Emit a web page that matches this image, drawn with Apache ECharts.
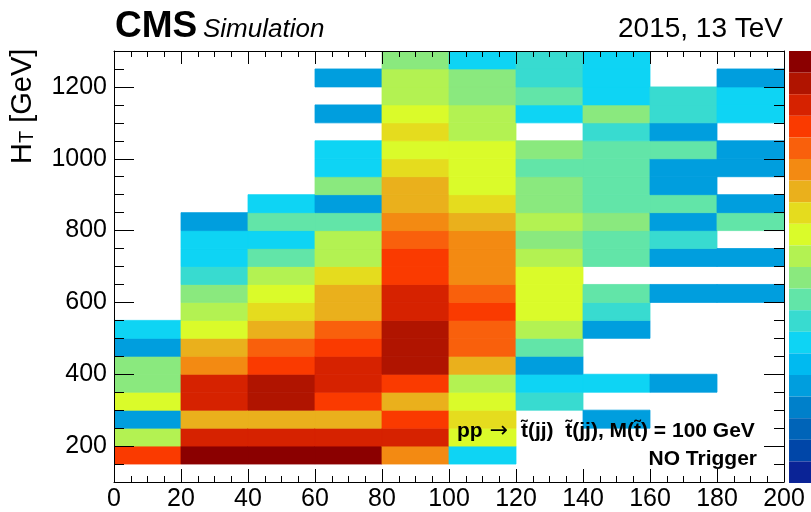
<!DOCTYPE html>
<html>
<head>
<meta charset="utf-8">
<script src="https://cdn.jsdelivr.net/npm/echarts@6/dist/echarts.min.js"></script>
<style>
  html, body { margin: 0; padding: 0; background: #ffffff; }
  #chart { width: 811px; height: 512px; }
</style>
</head>
<body>
<div id="chart"></div>
<script>
// Dijet mass bin edges (GeV) on x, lower edges of the H_T bins (GeV) on y
const massEdges = [0, 20, 40, 60, 80, 100, 120, 140, 160, 180, 200];
const htLowEdges = [150, 200, 250, 300, 350, 400, 450, 500, 550, 600, 650, 700,
                    750, 800, 850, 900, 950, 1000, 1050, 1100, 1150, 1200, 1250];
const htBinWidth = 50;

// Colour level of each filled bin (1 = lowest contour, 20 = highest),
// listed from H_T = 150 GeV upwards; null marks an empty bin.
const level_0_20    = [17, 11, 5, 12, 10, 10, 5, 7, null, null, null, null, null, null, null, null, null, null, null, null, null, null, null];
const level_20_40   = [20, 18, 14, 18, 18, 15, 14, 12, 11, 10, 8, 7, 7, 5, null, null, null, null, null, null, null, null, null];
const level_40_60   = [20, 18, 14, 19, 19, 17, 16, 14, 13, 12, 11, 9, 7, 9, 7, null, null, null, null, null, null, null, null];
const level_60_80   = [20, 18, 14, 17, 18, 18, 17, 16, 14, 14, 13, 11, 11, 9, 5, 10, 7, 7, null, 5, null, 5, null];
const level_80_100  = [15, 18, 17, 14, 17, 19, 19, 19, 18, 18, 17, 17, 16, 15, 14, 14, 13, 12, 13, 12, 11, 11, 10];
const level_100_120 = [7, 12, 13, 12, 11, 14, 16, 16, 17, 16, 15, 15, 15, 14, 13, 12, 12, 12, 11, 11, 10, 10, 7];
const level_120_140 = [null, null, null, 8, 7, 5, 9, 11, 12, 12, 12, 11, 10, 11, 10, 10, 9, 10, null, 7, 9, 8, 8];
const level_140_160 = [null, null, 5, null, 7, null, null, 5, 8, 9, null, 9, 9, 10, 9, 9, 9, 9, 8, 10, 7, 7, 7];
const level_160_180 = [null, null, null, null, 5, null, null, null, null, 5, null, 5, 8, 5, 9, 5, 5, 9, 5, 8, 8, null, null];
const level_180_200 = [null, null, null, null, null, null, null, null, null, 5, null, 5, null, 9, 5, null, 5, 5, null, 7, 7, 5, null];

const levelColumns = [level_0_20, level_20_40, level_40_60, level_60_80, level_80_100,
                      level_100_120, level_120_140, level_140_160, level_160_180, level_180_200];

// 20-step rainbow palette, lowest level first
const paletteColors = ['#0A2396', '#0046A8', '#0064B8', '#0080CA', '#009EDE',
                       '#00BAF0', '#0ED4F4', '#38DBD0', '#62E5A8', '#8AE97E',
                       '#B3F252', '#DAFB2A', '#E5DC1E', '#EAB01C', '#F38A12',
                       '#F9600C', '#FA3A00', '#D62200', '#B01400', '#8B0000'];

// Tick labels
const massTickLabels = ['0', '20', '40', '60', '80', '100', '120', '140', '160', '180', '200'];
const htTickLabels = ['200', '400', '600', '800', '1000', '1200'];

// Cells: [xLow, xHigh, yLow, yHigh, level]
const cells = [];
levelColumns.forEach(function (col, i) {
  col.forEach(function (lvl, j) {
    if (lvl !== null) {
      cells.push([massEdges[i], massEdges[i + 1], htLowEdges[j], htLowEdges[j] + htBinWidth, lvl]);
    }
  });
});

const FONT = "'Liberation Sans', Arial, Helvetica, sans-serif";
const AX_MIN_X = massEdges[0], AX_MAX_X = massEdges[massEdges.length - 1];
const AX_MIN_Y = 100, AX_MAX_Y = 1300;

const lineStyle = { color: '#000', width: 1 };

function xAxisDef(position, showLabels) {
  return {
    type: 'value', position: position, min: AX_MIN_X, max: AX_MAX_X, interval: 20, z: 10,
    axisLine: { show: true, onZero: false, lineStyle: lineStyle },
    axisTick: { show: true, inside: true, length: 13, lineStyle: lineStyle },
    minorTick: { show: true, splitNumber: 4, length: 6, lineStyle: lineStyle },
    splitLine: { show: false }, minorSplitLine: { show: false },
    axisLabel: {
      show: showLabels, margin: 5, color: '#000', fontFamily: FONT, fontSize: 25,
      formatter: function (v) { return massTickLabels[massEdges.indexOf(v)] || ''; }
    }
  };
}

// H_T axis: 200 GeV steps chosen by the scale itself, 50 GeV minor ticks
function yAxisDef(position, showLabels) {
  return {
    type: 'value', position: position, min: AX_MIN_Y, max: AX_MAX_Y,
    splitNumber: 6, minInterval: 200, maxInterval: 200, z: 10,
    axisLine: { show: true, onZero: false, lineStyle: lineStyle },
    axisTick: { show: true, inside: true, length: 20, lineStyle: lineStyle },
    minorTick: { show: true, splitNumber: 4, length: 10, lineStyle: lineStyle },
    splitLine: { show: false }, minorSplitLine: { show: false },
    axisLabel: {
      show: showLabels, margin: 7, color: '#000', fontFamily: FONT, fontSize: 25,
      showMinLabel: false, showMaxLabel: false,
      formatter: function (v) { const s = String(v); return htTickLabels.indexOf(s) >= 0 ? s : ''; }
    }
  };
}

const chart = echarts.init(document.getElementById('chart'), null, { renderer: 'canvas' });

chart.setOption({
  animation: false,
  backgroundColor: '#ffffff',
  grid: { left: 114, right: 27, top: 51, bottom: 29, containLabel: false },
  xAxis: [xAxisDef('bottom', true), xAxisDef('top', false)],
  yAxis: [yAxisDef('left', true), yAxisDef('right', false)],
  visualMap: {
    type: 'piecewise',
    dimension: 4,
    seriesIndex: 0,
    pieces: paletteColors.map(function (c, i) { return { value: i + 1, color: c }; }),
    orient: 'vertical',
    left: 789, top: 51,
    itemWidth: 26, itemHeight: 21.6, itemGap: 0,
    itemSymbol: 'rect',
    showLabel: false,
    selectedMode: false,
    hoverLink: false,
    padding: 0
  },
  series: [{
    type: 'custom',
    xAxisIndex: 0,
    yAxisIndex: 0,
    z: 1,
    clip: true,
    encode: { x: [0, 1], y: [2, 3] },
    data: cells,
    renderItem: function (params, api) {
      const topLeft = api.coord([api.value(0), api.value(3)]);
      const bottomRight = api.coord([api.value(1), api.value(2)]);
      const color = api.visual('color');
      return {
        type: 'rect',
        shape: {
          x: topLeft[0], y: topLeft[1],
          width: bottomRight[0] - topLeft[0],
          height: bottomRight[1] - topLeft[1]
        },
        style: { fill: color, stroke: color, lineWidth: 0.8 }
      };
    }
  }],
  graphic: [
    {
      type: 'text', x: 115, y: 27, z: 100,
      style: { text: 'CMS', font: 'bold 37px ' + FONT, fill: '#000', verticalAlign: 'middle', align: 'left' }
    },
    {
      type: 'text', x: 203, y: 30, z: 100,
      style: { text: 'Simulation', font: 'italic 26px ' + FONT, fill: '#000', verticalAlign: 'middle', align: 'left' }
    },
    {
      type: 'text', x: 783, y: 29, z: 100,
      style: { text: '2015, 13 TeV', font: '28px ' + FONT, fill: '#000', verticalAlign: 'middle', align: 'right' }
    },
    {
      type: 'text', x: 23, y: 164, rotation: Math.PI / 2, z: 100,
      style: {
        text: '{m|H}{s|T}{m| [GeV]}',
        align: 'left', verticalAlign: 'middle', fill: '#000',
        rich: {
          m: { fontFamily: FONT, fontSize: 29, lineHeight: 29, verticalAlign: 'middle' },
          s: { fontFamily: FONT, fontSize: 20, lineHeight: 4, verticalAlign: 'bottom' }
        }
      }
    },
    {
      type: 'text', x: 457, y: 431, z: 100,
      style: {
        text: '{b|pp}{a| \u2192 }{b| t\u0303(jj)  t\u0303(jj), M(t\u0303) = 100 GeV}',
        align: 'left', verticalAlign: 'middle', fill: '#000',
        rich: {
          b: { fontFamily: FONT, fontWeight: 'bold', fontSize: 21 },
          a: { fontFamily: "'DejaVu Sans', sans-serif", fontWeight: 'normal', fontSize: 22 }
        }
      }
    },
    {
      type: 'text', x: 757, y: 459, z: 100,
      style: { text: 'NO Trigger', font: 'bold 21px ' + FONT, fill: '#000', verticalAlign: 'middle', align: 'right' }
    }
  ]
});
</script>
</body>
</html>
